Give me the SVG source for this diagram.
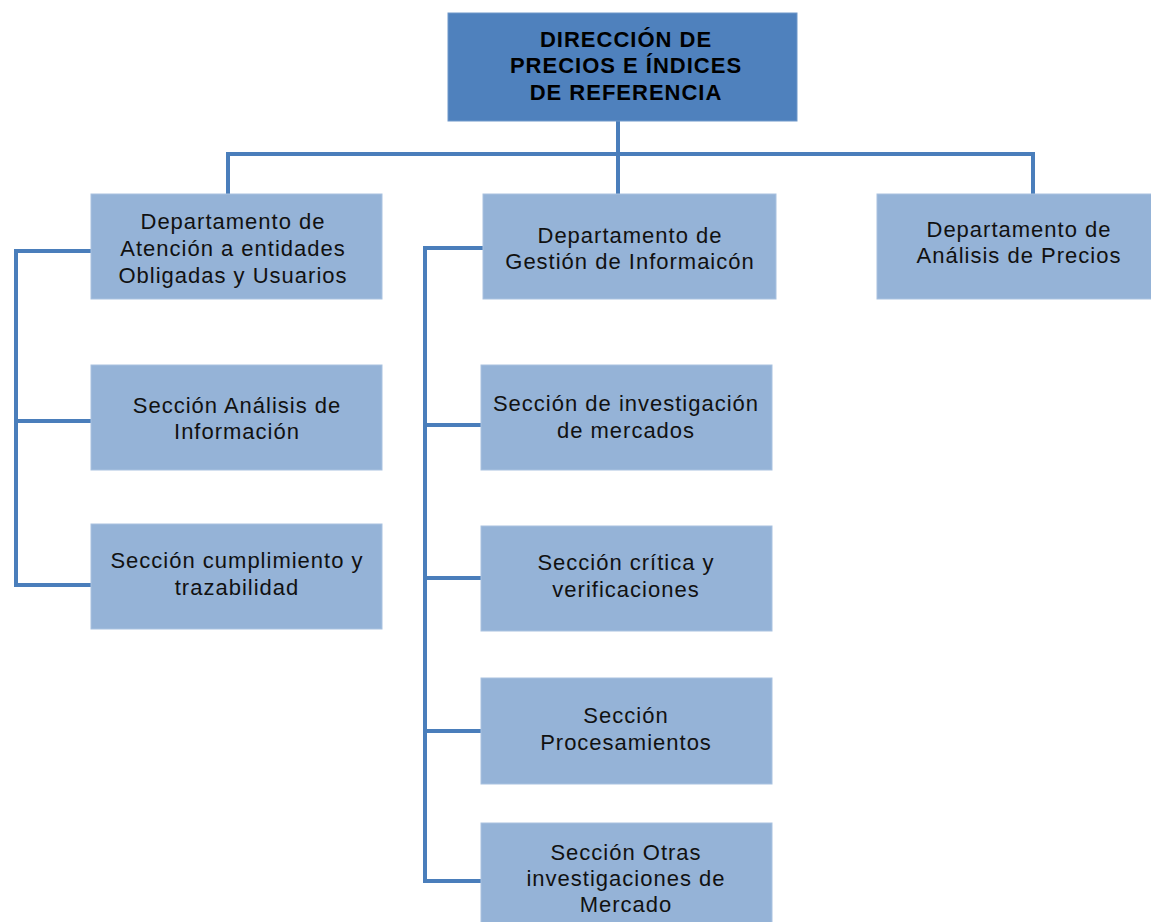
<svg xmlns="http://www.w3.org/2000/svg" width="1151" height="922" viewBox="0 0 1151 922">
<style>
.top{fill:#4F81BD;stroke:#6f97c9;stroke-width:1}
.box{fill:#95B3D7;stroke:#a9c2e0;stroke-width:1}
.t{font-family:"Liberation Sans",Arial,sans-serif;font-size:22px;letter-spacing:1px;fill:#111;text-anchor:middle}
.tb{font-family:"Liberation Sans",Arial,sans-serif;font-size:22px;font-weight:bold;letter-spacing:1px;fill:#000;text-anchor:middle}
.c{fill:none;stroke:#4A7EBB;stroke-width:4;stroke-linejoin:miter}
</style>
<rect width="1151" height="922" fill="#fff"/>
<g id="connectors">
<path class="c" d="M618,121 V154 M228,194 V154 H1033 V194 M618,154 V194"/>
<path class="c" d="M91,251 H16 V585 H91 M16,421 H91"/>
<path class="c" d="M483,248 H425 V881 H481 M425,425 H481 M425,578 H481 M425,731 H481"/>
</g>
<g id="n-direccion">
<rect class="top" x="448" y="13" width="349" height="108"/>
<text class="tb" x="626" y="47">DIRECCIÓN DE</text>
<text class="tb" x="626" y="73">PRECIOS E ÍNDICES</text>
<text class="tb" x="626" y="100">DE REFERENCIA</text>
</g>
<g id="n-dep-atencion">
<rect class="box" x="91" y="194" width="291" height="105"/>
<text class="t" x="233" y="229">Departamento de</text>
<text class="t" x="233" y="256">Atención a entidades</text>
<text class="t" x="233" y="283">Obligadas y Usuarios</text>
</g>
<g id="n-dep-gestion">
<rect class="box" x="483" y="194" width="293" height="105"/>
<text class="t" x="630" y="243">Departamento de</text>
<text class="t" x="630" y="269">Gestión de Informaicón</text>
</g>
<g id="n-dep-analisis">
<rect class="box" x="877" y="194" width="280" height="105"/>
<text class="t" x="1019" y="237">Departamento de</text>
<text class="t" x="1019" y="263">Análisis de Precios</text>
</g>
<g id="n-sec-analisis">
<rect class="box" x="91" y="365" width="291" height="105"/>
<text class="t" x="237" y="413">Sección Análisis de</text>
<text class="t" x="237" y="439">Información</text>
</g>
<g id="n-sec-cumplimiento">
<rect class="box" x="91" y="524" width="291" height="105"/>
<text class="t" x="237" y="568">Sección cumplimiento y</text>
<text class="t" x="237" y="595">trazabilidad</text>
</g>
<g id="n-sec-investigacion">
<rect class="box" x="481" y="365" width="291" height="105"/>
<text class="t" x="626" y="411">Sección de investigación</text>
<text class="t" x="626" y="438">de mercados</text>
</g>
<g id="n-sec-critica">
<rect class="box" x="481" y="526" width="291" height="105"/>
<text class="t" x="626" y="570">Sección crítica y</text>
<text class="t" x="626" y="597">verificaciones</text>
</g>
<g id="n-sec-procesamientos">
<rect class="box" x="481" y="678" width="291" height="106"/>
<text class="t" x="626" y="723">Sección</text>
<text class="t" x="626" y="750">Procesamientos</text>
</g>
<g id="n-sec-otras">
<rect class="box" x="481" y="823" width="291" height="110"/>
<text class="t" x="626" y="860">Sección Otras</text>
<text class="t" x="626" y="886">investigaciones de</text>
<text class="t" x="626" y="912">Mercado</text>
</g>
</svg>
